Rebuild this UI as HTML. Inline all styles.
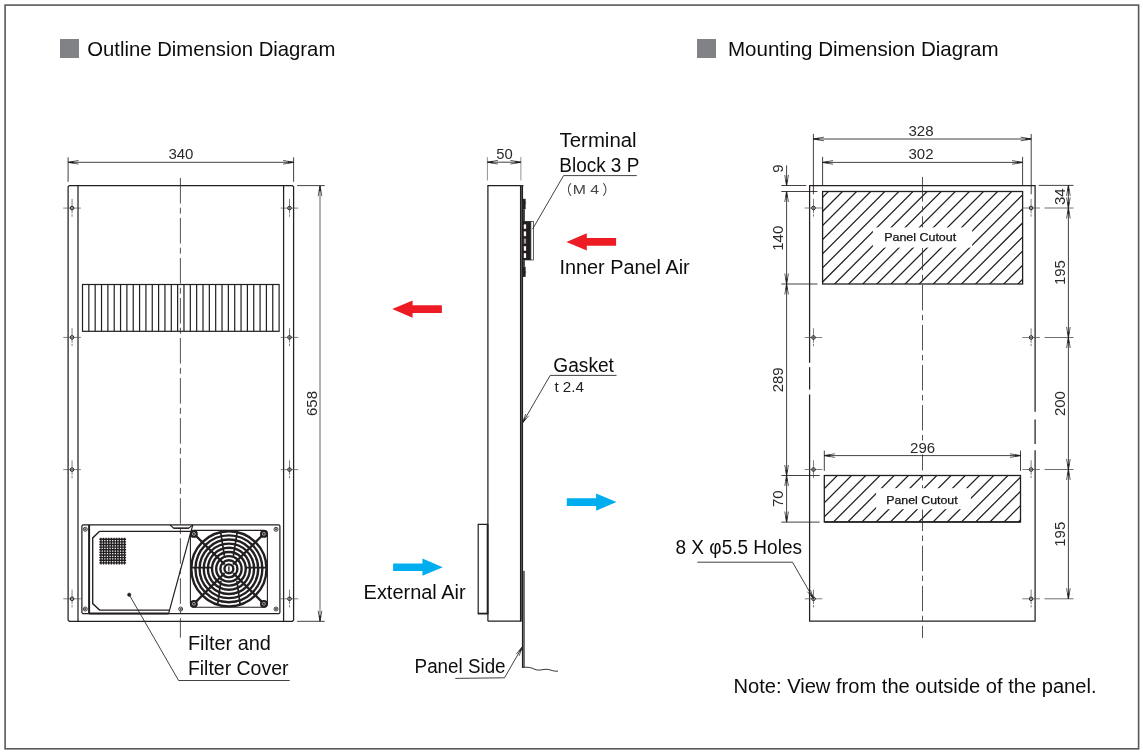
<!DOCTYPE html>
<html lang="en">
<head>
<meta charset="utf-8">
<title>Outline and Mounting Dimension Diagram</title>
<style>
html,body{margin:0;padding:0;background:#fff;}
body{width:1143px;height:755px;overflow:hidden;font-family:"Liberation Sans",sans-serif;}
svg{display:block;will-change:transform;}
svg text{font-family:"Liberation Sans",sans-serif;}
</style>
</head>
<body>
<svg width="1143" height="755" viewBox="0 0 1143 755">
<rect x="0" y="0" width="1143" height="755" fill="#ffffff"/>
<rect x="5.10" y="5.10" width="1133.50" height="743.70" stroke="#58585a" stroke-width="1.6" fill="none" />
<rect x="60" y="39" width="19" height="19" fill="#808285"/>
<rect x="697" y="39" width="19" height="19" fill="#808285"/>
<text x="87.30" y="55.80" font-size="20.2" fill="#0d0d0d" text-anchor="start" textLength="248.0" lengthAdjust="spacingAndGlyphs" >Outline Dimension Diagram</text>
<text x="728.00" y="55.80" font-size="20.2" fill="#0d0d0d" text-anchor="start" textLength="270.5" lengthAdjust="spacingAndGlyphs" >Mounting Dimension Diagram</text>
<path d="M68.1 620.0999999999999L68.1 186.79999999999998L69.3 185.6L292.40000000000003 185.6L293.6 186.79999999999998L293.6 620.0999999999999L292.40000000000003 621.3L69.3 621.3Z" stroke="#231f20" stroke-width="1.25" fill="none" />
<line x1="78.00" y1="185.60" x2="78.00" y2="621.30" stroke="#231f20" stroke-width="1.25" />
<line x1="283.60" y1="185.60" x2="283.60" y2="621.30" stroke="#231f20" stroke-width="1.25" />
<line x1="180.40" y1="177.90" x2="180.40" y2="637.70" stroke="#333" stroke-width="0.85" stroke-dasharray="25.6 4.2 6 4.23"/>
<line x1="68.10" y1="157.30" x2="68.10" y2="181.80" stroke="#231f20" stroke-width="0.85" />
<line x1="293.60" y1="157.30" x2="293.60" y2="181.80" stroke="#231f20" stroke-width="0.85" />
<line x1="68.10" y1="162.30" x2="293.60" y2="162.30" stroke="#231f20" stroke-width="0.85" />
<path d="M78.60 160.50L68.10 162.30L78.60 164.10" stroke="#231f20" stroke-width="0.75" fill="none" stroke-linejoin="miter"/>
<path d="M68.10 162.30L73.56 161.36L73.56 163.24Z" stroke="#231f20" stroke-width="0.3" fill="#231f20" />
<path d="M283.10 164.10L293.60 162.30L283.10 160.50" stroke="#231f20" stroke-width="0.75" fill="none" stroke-linejoin="miter"/>
<path d="M293.60 162.30L288.14 163.24L288.14 161.36Z" stroke="#231f20" stroke-width="0.3" fill="#231f20" />
<text x="180.90" y="159.10" font-size="15" fill="#2a2a2a" text-anchor="middle" >340</text>
<line x1="297.10" y1="185.60" x2="324.70" y2="185.60" stroke="#231f20" stroke-width="0.85" />
<line x1="297.10" y1="621.30" x2="324.70" y2="621.30" stroke="#231f20" stroke-width="0.85" />
<line x1="320.00" y1="185.60" x2="320.00" y2="621.30" stroke="#9a9a9a" stroke-width="1.5" />
<path d="M321.80 196.10L320.00 185.60L318.20 196.10" stroke="#231f20" stroke-width="0.75" fill="none" stroke-linejoin="miter"/>
<path d="M320.00 185.60L320.94 191.06L319.06 191.06Z" stroke="#231f20" stroke-width="0.3" fill="#231f20" />
<path d="M318.20 610.80L320.00 621.30L321.80 610.80" stroke="#231f20" stroke-width="0.75" fill="none" stroke-linejoin="miter"/>
<path d="M320.00 621.30L319.06 615.84L320.94 615.84Z" stroke="#231f20" stroke-width="0.3" fill="#231f20" />
<text x="317.00" y="403.50" font-size="15" fill="#2a2a2a" text-anchor="middle" transform="rotate(-90 317.00 403.50)" >658</text>
<line x1="63.25" y1="208.10" x2="80.85" y2="208.10" stroke="#4a4a4a" stroke-width="0.7" />
<line x1="72.05" y1="198.90" x2="72.05" y2="216.70" stroke="#4a4a4a" stroke-width="0.7" stroke-dasharray="14.5 1 4"/>
<circle cx="72.05" cy="208.10" r="1.80" stroke="#231f20" stroke-width="1.0" fill="none"/>
<line x1="280.70" y1="208.10" x2="298.30" y2="208.10" stroke="#4a4a4a" stroke-width="0.7" />
<line x1="289.50" y1="198.90" x2="289.50" y2="216.70" stroke="#4a4a4a" stroke-width="0.7" stroke-dasharray="14.5 1 4"/>
<circle cx="289.50" cy="208.10" r="1.80" stroke="#231f20" stroke-width="1.0" fill="none"/>
<line x1="63.25" y1="337.40" x2="80.85" y2="337.40" stroke="#4a4a4a" stroke-width="0.7" />
<line x1="72.05" y1="328.20" x2="72.05" y2="346.00" stroke="#4a4a4a" stroke-width="0.7" stroke-dasharray="14.5 1 4"/>
<circle cx="72.05" cy="337.40" r="1.80" stroke="#231f20" stroke-width="1.0" fill="none"/>
<line x1="280.70" y1="337.40" x2="298.30" y2="337.40" stroke="#4a4a4a" stroke-width="0.7" />
<line x1="289.50" y1="328.20" x2="289.50" y2="346.00" stroke="#4a4a4a" stroke-width="0.7" stroke-dasharray="14.5 1 4"/>
<circle cx="289.50" cy="337.40" r="1.80" stroke="#231f20" stroke-width="1.0" fill="none"/>
<line x1="63.25" y1="469.60" x2="80.85" y2="469.60" stroke="#4a4a4a" stroke-width="0.7" />
<line x1="72.05" y1="460.40" x2="72.05" y2="478.20" stroke="#4a4a4a" stroke-width="0.7" stroke-dasharray="14.5 1 4"/>
<circle cx="72.05" cy="469.60" r="1.80" stroke="#231f20" stroke-width="1.0" fill="none"/>
<line x1="280.70" y1="469.60" x2="298.30" y2="469.60" stroke="#4a4a4a" stroke-width="0.7" />
<line x1="289.50" y1="460.40" x2="289.50" y2="478.20" stroke="#4a4a4a" stroke-width="0.7" stroke-dasharray="14.5 1 4"/>
<circle cx="289.50" cy="469.60" r="1.80" stroke="#231f20" stroke-width="1.0" fill="none"/>
<line x1="63.25" y1="598.80" x2="80.85" y2="598.80" stroke="#4a4a4a" stroke-width="0.7" />
<line x1="72.05" y1="589.60" x2="72.05" y2="607.40" stroke="#4a4a4a" stroke-width="0.7" stroke-dasharray="14.5 1 4"/>
<circle cx="72.05" cy="598.80" r="1.80" stroke="#231f20" stroke-width="1.0" fill="none"/>
<line x1="280.70" y1="598.80" x2="298.30" y2="598.80" stroke="#4a4a4a" stroke-width="0.7" />
<line x1="289.50" y1="589.60" x2="289.50" y2="607.40" stroke="#4a4a4a" stroke-width="0.7" stroke-dasharray="14.5 1 4"/>
<circle cx="289.50" cy="598.80" r="1.80" stroke="#231f20" stroke-width="1.0" fill="none"/>
<rect x="82.50" y="284.50" width="196.60" height="46.80" stroke="#231f20" stroke-width="1.2" fill="none" />
<path d="M88.84 284.5V331.3M95.18 284.5V331.3M101.53 284.5V331.3M107.87 284.5V331.3M114.21 284.5V331.3M120.55 284.5V331.3M126.89 284.5V331.3M133.24 284.5V331.3M139.58 284.5V331.3M145.92 284.5V331.3M152.26 284.5V331.3M158.60 284.5V331.3M164.95 284.5V331.3M171.29 284.5V331.3M177.63 284.5V331.3M183.97 284.5V331.3M190.31 284.5V331.3M196.65 284.5V331.3M203.00 284.5V331.3M209.34 284.5V331.3M215.68 284.5V331.3M222.02 284.5V331.3M228.36 284.5V331.3M234.71 284.5V331.3M241.05 284.5V331.3M247.39 284.5V331.3M253.73 284.5V331.3M260.07 284.5V331.3M266.42 284.5V331.3M272.76 284.5V331.3" stroke="#231f20" stroke-width="1.2" fill="none" />
<path d="M81.9 612.6L81.9 525.9L82.9 524.9L278.9 524.9L279.9 525.9L279.9 612.6L278.9 613.6L82.9 613.6Z" stroke="#231f20" stroke-width="1.25" fill="none" />
<line x1="89.10" y1="524.90" x2="89.10" y2="613.60" stroke="#231f20" stroke-width="2.0" />
<line x1="89.10" y1="613.50" x2="168.60" y2="613.50" stroke="#231f20" stroke-width="1.9" />
<path d="M99.4 531.4L190.6 531.4 M99.4 531.4L92.7 537.9L92.7 603.6L99.6 610.1L169.4 610.1" stroke="#231f20" stroke-width="1.35" fill="none" />
<path d="M192.8 524.9L168.6 613.6" stroke="#231f20" stroke-width="1.2" fill="none" />
<path d="M170 524.9L173.9 528.5L188.3 528.5L192.8 524.9" stroke="#231f20" stroke-width="1.2" fill="none" />
<line x1="173.50" y1="527.70" x2="188.80" y2="527.70" stroke="#555" stroke-width="1.0" />
<circle cx="85.30" cy="529.30" r="2.00" stroke="#231f20" stroke-width="0.85" fill="#fff"/>
<circle cx="85.30" cy="529.30" r="0.80" stroke="#231f20" stroke-width="0.6" fill="#666"/>
<circle cx="85.30" cy="609.00" r="2.00" stroke="#231f20" stroke-width="0.85" fill="#fff"/>
<circle cx="85.30" cy="609.00" r="0.80" stroke="#231f20" stroke-width="0.6" fill="#666"/>
<circle cx="276.00" cy="529.30" r="2.00" stroke="#231f20" stroke-width="0.85" fill="#fff"/>
<circle cx="276.00" cy="529.30" r="0.80" stroke="#231f20" stroke-width="0.6" fill="#666"/>
<circle cx="276.00" cy="609.00" r="2.00" stroke="#231f20" stroke-width="0.85" fill="#fff"/>
<circle cx="276.00" cy="609.00" r="0.80" stroke="#231f20" stroke-width="0.6" fill="#666"/>
<circle cx="180.70" cy="609.00" r="2.00" stroke="#231f20" stroke-width="0.85" fill="#fff"/>
<circle cx="180.70" cy="609.00" r="0.80" stroke="#231f20" stroke-width="0.6" fill="#666"/>
<path d="M100.90 537.7V564.5M99.3 539.30H126.1M103.52 537.7V564.5M99.3 541.92H126.1M106.14 537.7V564.5M99.3 544.54H126.1M108.77 537.7V564.5M99.3 547.17H126.1M111.39 537.7V564.5M99.3 549.79H126.1M114.01 537.7V564.5M99.3 552.41H126.1M116.63 537.7V564.5M99.3 555.03H126.1M119.26 537.7V564.5M99.3 557.66H126.1M121.88 537.7V564.5M99.3 560.28H126.1M124.50 537.7V564.5M99.3 562.90H126.1" stroke="#231f20" stroke-width="1.4" fill="none" />
<rect x="190.4" y="530.4" width="76.99999999999997" height="76.80000000000007" rx="3.5" ry="3.5" stroke="#231f20" stroke-width="1.1" fill="#fff"/>
<circle cx="228.90" cy="568.80" r="37.60" stroke="#231f20" stroke-width="2.4" fill="none"/>
<circle cx="228.90" cy="568.80" r="33.45" stroke="#231f20" stroke-width="2.4" fill="none"/>
<circle cx="228.90" cy="568.80" r="29.30" stroke="#231f20" stroke-width="2.4" fill="none"/>
<circle cx="228.90" cy="568.80" r="25.15" stroke="#231f20" stroke-width="2.4" fill="none"/>
<circle cx="228.90" cy="568.80" r="21.00" stroke="#231f20" stroke-width="2.4" fill="none"/>
<circle cx="228.90" cy="568.80" r="16.85" stroke="#231f20" stroke-width="2.4" fill="none"/>
<circle cx="228.90" cy="568.80" r="12.70" stroke="#231f20" stroke-width="2.4" fill="none"/>
<circle cx="228.90" cy="568.80" r="8.55" stroke="#231f20" stroke-width="2.4" fill="none"/>
<circle cx="228.90" cy="568.80" r="4.40" stroke="#231f20" stroke-width="2.4" fill="none"/>
<line x1="228.90" y1="566.20" x2="228.90" y2="571.40" stroke="#231f20" stroke-width="1.3" />
<path d="M233.14 573.04L263.19 603.09M224.66 573.04L194.61 603.09M224.66 564.56L194.61 534.51M233.14 564.56L263.19 534.51" stroke="#231f20" stroke-width="2.3" fill="none" />
<path d="M245.90 567.60L265.90 567.60M211.90 567.60L191.90 567.60M224.40 555.80L220.60 532.00M220.90 580.80L217.60 604.80M233.40 555.80L237.20 532.00M236.90 580.80L240.20 604.80" stroke="#231f20" stroke-width="1.7" fill="none" />
<circle cx="193.90" cy="533.90" r="3.10" stroke="#231f20" stroke-width="1.6" fill="#231f20"/>
<circle cx="193.90" cy="533.90" r="1.45" stroke="#d8d8d8" stroke-width="0.7" fill="#231f20"/>
<circle cx="263.90" cy="533.90" r="3.10" stroke="#231f20" stroke-width="1.6" fill="#231f20"/>
<circle cx="263.90" cy="533.90" r="1.45" stroke="#d8d8d8" stroke-width="0.7" fill="#231f20"/>
<circle cx="193.90" cy="603.80" r="3.10" stroke="#231f20" stroke-width="1.6" fill="#231f20"/>
<circle cx="193.90" cy="603.80" r="1.45" stroke="#d8d8d8" stroke-width="0.7" fill="#231f20"/>
<circle cx="263.90" cy="603.80" r="3.10" stroke="#231f20" stroke-width="1.6" fill="#231f20"/>
<circle cx="263.90" cy="603.80" r="1.45" stroke="#d8d8d8" stroke-width="0.7" fill="#231f20"/>
<circle cx="129.20" cy="594.70" r="1.70" stroke="#231f20" stroke-width="0.5" fill="#231f20"/>
<path d="M129.2 594.7L178.6 680.5L289.7 680.5" stroke="#231f20" stroke-width="0.85" fill="none" />
<text x="187.90" y="649.70" font-size="19.8" fill="#0d0d0d" text-anchor="start" textLength="83.0" lengthAdjust="spacingAndGlyphs" >Filter and</text>
<text x="187.90" y="674.70" font-size="19.8" fill="#0d0d0d" text-anchor="start" textLength="100.6" lengthAdjust="spacingAndGlyphs" >Filter Cover</text>
<path d="M487.9 621.2L487.9 185.7L523.4 185.7" stroke="#231f20" stroke-width="1.25" fill="none" />
<line x1="487.90" y1="621.20" x2="521.50" y2="621.20" stroke="#231f20" stroke-width="1.25" />
<rect x="520.0" y="185.7" width="3.0" height="435.50000000000006" fill="#5a5a5a"/>
<line x1="520.50" y1="185.70" x2="520.50" y2="621.20" stroke="#231f20" stroke-width="1.1" />
<line x1="522.50" y1="185.70" x2="522.50" y2="667.60" stroke="#231f20" stroke-width="1.15" />
<rect x="523.0" y="570.9" width="1.9" height="96.6" fill="#666"/>
<path d="M522.0 667.4C528 667.0 531 667.3 535 669.4C539 671.3 543 669.0 547 669.3C551 669.6 553 671.6 558 671.2" stroke="#231f20" stroke-width="0.9" fill="none" />
<path d="M487.9 524.3L478.2 524.3L478.2 613.6" stroke="#231f20" stroke-width="1.2" fill="none" />
<line x1="477.70" y1="613.60" x2="488.30" y2="613.60" stroke="#231f20" stroke-width="1.8" />
<line x1="487.60" y1="524.30" x2="487.60" y2="613.60" stroke="#231f20" stroke-width="1.8" />
<line x1="487.40" y1="157.10" x2="487.40" y2="180.40" stroke="#777" stroke-width="0.8" />
<line x1="520.90" y1="157.10" x2="520.90" y2="180.40" stroke="#777" stroke-width="0.8" />
<line x1="487.40" y1="162.20" x2="520.90" y2="162.20" stroke="#231f20" stroke-width="0.85" />
<path d="M497.90 160.40L487.40 162.20L497.90 164.00" stroke="#231f20" stroke-width="0.75" fill="none" stroke-linejoin="miter"/>
<path d="M487.40 162.20L492.86 161.26L492.86 163.14Z" stroke="#231f20" stroke-width="0.3" fill="#231f20" />
<path d="M510.40 164.00L520.90 162.20L510.40 160.40" stroke="#231f20" stroke-width="0.75" fill="none" stroke-linejoin="miter"/>
<path d="M520.90 162.20L515.44 163.14L515.44 161.26Z" stroke="#231f20" stroke-width="0.3" fill="#231f20" />
<text x="504.40" y="158.90" font-size="14.8" fill="#2a2a2a" text-anchor="middle" >50</text>
<rect x="522.9" y="198.8" width="2.7" height="10.5" fill="#231f20"/>
<rect x="525.2" y="201.5" width="0.9" height="2.6" fill="#555"/>
<rect x="522.9" y="209.3" width="2.0" height="12" fill="#3a3a3a"/>
<rect x="522.9" y="260.2" width="2.0" height="6.5" fill="#3a3a3a"/>
<rect x="522.9" y="266.7" width="2.7" height="10.2" fill="#231f20"/>
<rect x="525.2" y="271.0" width="0.9" height="2.6" fill="#555"/>
<rect x="522.9" y="221.1" width="8.0" height="39.2" fill="#231f20"/>
<rect x="530.90" y="221.40" width="2.50" height="38.60" stroke="#231f20" stroke-width="0.7" fill="#fff" />
<rect x="523.8" y="224.4" width="2.3" height="4.4" fill="#fff"/>
<rect x="523.8" y="231.4" width="2.3" height="4.8" fill="#fff"/>
<rect x="523.8" y="238.6" width="2.3" height="5.0" fill="#999"/>
<rect x="523.8" y="246.2" width="2.3" height="4.5" fill="#fff"/>
<rect x="523.8" y="253.2" width="2.3" height="4.8" fill="#fff"/>
<path d="M532.6 229.0L563.6 175.6L636.8 175.6" stroke="#231f20" stroke-width="0.85" fill="none" />
<text x="559.60" y="146.70" font-size="20" fill="#0d0d0d" text-anchor="start" textLength="77.0" lengthAdjust="spacingAndGlyphs" >Terminal</text>
<text x="559.30" y="171.60" font-size="20" fill="#0d0d0d" text-anchor="start" textLength="80.0" lengthAdjust="spacingAndGlyphs" >Block 3 P</text>
<text y="194.4" font-size="13.6" fill="#444" style="font-family:'Liberation Sans','Noto Sans CJK JP',sans-serif"><tspan x="558.6">（</tspan><tspan x="572.7" textLength="26.4" lengthAdjust="spacingAndGlyphs">M 4</tspan><tspan x="602.2">）</tspan></text>
<path d="M522.7 422.7L550.2 375.4L616.5 375.4" stroke="#231f20" stroke-width="0.85" fill="none" />
<path d="M525.75 414.06L522.70 422.70L528.69 415.77" stroke="#231f20" stroke-width="0.75" fill="none" stroke-linejoin="miter"/>
<path d="M522.70 422.70L524.29 418.21L525.82 419.10Z" stroke="#231f20" stroke-width="0.3" fill="#231f20" />
<text x="553.30" y="371.60" font-size="20" fill="#0d0d0d" text-anchor="start" textLength="60.6" lengthAdjust="spacingAndGlyphs" >Gasket</text>
<text x="554.40" y="391.60" font-size="14.2" fill="#222" text-anchor="start" textLength="29.6" lengthAdjust="spacingAndGlyphs" >t 2.4</text>
<path d="M455.3 678.4L504.5 677.8L522.2 647.1" stroke="#231f20" stroke-width="0.85" fill="none" />
<path d="M519.18 655.75L522.20 647.10L516.23 654.05" stroke="#231f20" stroke-width="0.75" fill="none" stroke-linejoin="miter"/>
<path d="M522.20 647.10L520.63 651.60L519.10 650.71Z" stroke="#231f20" stroke-width="0.3" fill="#231f20" />
<text x="414.60" y="673.00" font-size="20" fill="#0d0d0d" text-anchor="start" textLength="91.0" lengthAdjust="spacingAndGlyphs" >Panel Side</text>
<path d="M566.40 241.90L586.80 233.30L586.80 238.10L616.10 238.10L616.10 245.70L586.80 245.70L586.80 250.50Z" fill="#ed1c24"/>
<path d="M392.20 309.10L412.60 300.50L412.60 305.30L441.90 305.30L441.90 312.90L412.60 312.90L412.60 317.70Z" fill="#ed1c24"/>
<path d="M442.80 567.20L422.40 558.60L422.40 563.40L393.10 563.40L393.10 571.00L422.40 571.00L422.40 575.80Z" fill="#00aeef"/>
<path d="M616.50 502.10L596.10 493.50L596.10 498.30L566.80 498.30L566.80 505.90L596.10 505.90L596.10 510.70Z" fill="#00aeef"/>
<text x="559.40" y="273.80" font-size="20" fill="#0d0d0d" text-anchor="start" textLength="130.3" lengthAdjust="spacingAndGlyphs" >Inner Panel Air</text>
<text x="363.60" y="598.50" font-size="20" fill="#0d0d0d" text-anchor="start" textLength="102.0" lengthAdjust="spacingAndGlyphs" >External Air</text>
<path d="M809.6 362.8L809.6 185.5L1035.1 185.5L1035.1 411.8" stroke="#231f20" stroke-width="1.25" fill="none" />
<path d="M1035.1 450.2L1035.1 621.2L809.6 621.2L809.6 394.6" stroke="#231f20" stroke-width="1.25" fill="none" />
<line x1="809.60" y1="367.20" x2="809.60" y2="389.60" stroke="#231f20" stroke-width="1.25" />
<line x1="1035.10" y1="419.60" x2="1035.10" y2="444.00" stroke="#231f20" stroke-width="1.25" />
<defs><clipPath id="c1"><rect x="822.6" y="191.5" width="200" height="92.5"/></clipPath><clipPath id="c2"><rect x="824.3" y="475.5" width="196.2" height="46.6"/></clipPath></defs>
<path d="M839.90 180L729.90 290M854.00 180L744.00 290M868.10 180L758.10 290M882.20 180L772.20 290M896.30 180L786.30 290M910.40 180L800.40 290M924.50 180L814.50 290M938.60 180L828.60 290M952.70 180L842.70 290M966.80 180L856.80 290M980.90 180L870.90 290M995.00 180L885.00 290M1009.10 180L899.10 290M1023.20 180L913.20 290M1037.30 180L927.30 290M1051.40 180L941.40 290M1065.50 180L955.50 290M1079.60 180L969.60 290M1093.70 180L983.70 290M1107.80 180L997.80 290M1121.90 180L1011.90 290M1136.00 180L1026.00 290M1150.10 180L1040.10 290M1164.20 180L1054.20 290M1178.30 180L1068.30 290" stroke="#231f20" stroke-width="1.25" fill="none" clip-path="url(#c1)"/>
<path d="M828.58 470L768.58 530M842.80 470L782.80 530M857.02 470L797.02 530M871.24 470L811.24 530M885.46 470L825.46 530M899.68 470L839.68 530M913.90 470L853.90 530M928.12 470L868.12 530M942.34 470L882.34 530M956.56 470L896.56 530M970.78 470L910.78 530M985.00 470L925.00 530M999.22 470L939.22 530M1013.44 470L953.44 530M1027.66 470L967.66 530M1041.88 470L981.88 530M1056.10 470L996.10 530M1070.32 470L1010.32 530M1084.54 470L1024.54 530M1098.76 470L1038.76 530M1112.98 470L1052.98 530M1127.20 470L1067.20 530M1141.42 470L1081.42 530M1155.64 470L1095.64 530M1169.86 470L1109.86 530" stroke="#231f20" stroke-width="1.25" fill="none" clip-path="url(#c2)"/>
<rect x="822.60" y="191.50" width="200.00" height="92.50" stroke="#231f20" stroke-width="1.3" fill="none" />
<rect x="824.30" y="475.50" width="196.20" height="46.40" stroke="#231f20" stroke-width="1.3" fill="none" />
<line x1="824.30" y1="522.00" x2="1020.50" y2="522.00" stroke="#231f20" stroke-width="1.7" />
<line x1="922.50" y1="176.90" x2="922.50" y2="228.00" stroke="#333" stroke-width="0.85" stroke-dasharray="25.3 4.6 5.4 4.75" stroke-dashoffset="0.6"/>
<line x1="922.50" y1="248.00" x2="922.50" y2="488.50" stroke="#333" stroke-width="0.85" stroke-dasharray="25.3 4.6 5.4 4.75" stroke-dashoffset="3.1"/>
<line x1="922.50" y1="509.50" x2="922.50" y2="637.90" stroke="#333" stroke-width="0.85" stroke-dasharray="25.3 4.6 5.4 4.75" stroke-dashoffset="3.8"/>
<rect x="872.9" y="227.4" width="99.3" height="20.2" fill="#fff"/>
<rect x="876.1" y="488.2" width="94.8" height="21.0" fill="#fff"/>
<text x="884.20" y="240.80" font-size="11.8" fill="#111" text-anchor="start" textLength="72.0" lengthAdjust="spacingAndGlyphs" stroke="#111" stroke-width="0.25">Panel Cutout</text>
<text x="886.20" y="503.90" font-size="11.8" fill="#111" text-anchor="start" textLength="71.5" lengthAdjust="spacingAndGlyphs" stroke="#111" stroke-width="0.25">Panel Cutout</text>
<line x1="804.70" y1="208.00" x2="822.30" y2="208.00" stroke="#4a4a4a" stroke-width="0.7" />
<line x1="813.50" y1="198.80" x2="813.50" y2="216.60" stroke="#4a4a4a" stroke-width="0.7" stroke-dasharray="14.5 1 4"/>
<circle cx="813.50" cy="208.00" r="1.80" stroke="#231f20" stroke-width="1.0" fill="none"/>
<line x1="1022.30" y1="208.00" x2="1039.90" y2="208.00" stroke="#4a4a4a" stroke-width="0.7" />
<line x1="1031.10" y1="198.80" x2="1031.10" y2="216.60" stroke="#4a4a4a" stroke-width="0.7" stroke-dasharray="14.5 1 4"/>
<circle cx="1031.10" cy="208.00" r="1.80" stroke="#231f20" stroke-width="1.0" fill="none"/>
<line x1="804.70" y1="337.50" x2="822.30" y2="337.50" stroke="#4a4a4a" stroke-width="0.7" />
<line x1="813.50" y1="328.30" x2="813.50" y2="346.10" stroke="#4a4a4a" stroke-width="0.7" stroke-dasharray="14.5 1 4"/>
<circle cx="813.50" cy="337.50" r="1.80" stroke="#231f20" stroke-width="1.0" fill="none"/>
<line x1="1022.30" y1="337.50" x2="1039.90" y2="337.50" stroke="#4a4a4a" stroke-width="0.7" />
<line x1="1031.10" y1="328.30" x2="1031.10" y2="346.10" stroke="#4a4a4a" stroke-width="0.7" stroke-dasharray="14.5 1 4"/>
<circle cx="1031.10" cy="337.50" r="1.80" stroke="#231f20" stroke-width="1.0" fill="none"/>
<line x1="804.70" y1="469.50" x2="822.30" y2="469.50" stroke="#4a4a4a" stroke-width="0.7" />
<line x1="813.50" y1="460.30" x2="813.50" y2="478.10" stroke="#4a4a4a" stroke-width="0.7" stroke-dasharray="14.5 1 4"/>
<circle cx="813.50" cy="469.50" r="1.80" stroke="#231f20" stroke-width="1.0" fill="none"/>
<line x1="1022.30" y1="469.50" x2="1039.90" y2="469.50" stroke="#4a4a4a" stroke-width="0.7" />
<line x1="1031.10" y1="460.30" x2="1031.10" y2="478.10" stroke="#4a4a4a" stroke-width="0.7" stroke-dasharray="14.5 1 4"/>
<circle cx="1031.10" cy="469.50" r="1.80" stroke="#231f20" stroke-width="1.0" fill="none"/>
<line x1="804.70" y1="598.80" x2="822.30" y2="598.80" stroke="#4a4a4a" stroke-width="0.7" />
<line x1="813.50" y1="589.60" x2="813.50" y2="607.40" stroke="#4a4a4a" stroke-width="0.7" stroke-dasharray="14.5 1 4"/>
<circle cx="813.50" cy="598.80" r="1.80" stroke="#231f20" stroke-width="1.0" fill="none"/>
<line x1="1022.30" y1="598.80" x2="1039.90" y2="598.80" stroke="#4a4a4a" stroke-width="0.7" />
<line x1="1031.10" y1="589.60" x2="1031.10" y2="607.40" stroke="#4a4a4a" stroke-width="0.7" stroke-dasharray="14.5 1 4"/>
<circle cx="1031.10" cy="598.80" r="1.80" stroke="#231f20" stroke-width="1.0" fill="none"/>
<line x1="813.40" y1="133.90" x2="813.40" y2="194.30" stroke="#231f20" stroke-width="0.85" />
<line x1="1031.20" y1="133.90" x2="1031.20" y2="194.30" stroke="#231f20" stroke-width="0.85" />
<line x1="813.40" y1="139.00" x2="1031.20" y2="139.00" stroke="#231f20" stroke-width="0.85" />
<path d="M823.90 137.20L813.40 139.00L823.90 140.80" stroke="#231f20" stroke-width="0.75" fill="none" stroke-linejoin="miter"/>
<path d="M813.40 139.00L818.86 138.06L818.86 139.94Z" stroke="#231f20" stroke-width="0.3" fill="#231f20" />
<path d="M1020.70 140.80L1031.20 139.00L1020.70 137.20" stroke="#231f20" stroke-width="0.75" fill="none" stroke-linejoin="miter"/>
<path d="M1031.20 139.00L1025.74 139.94L1025.74 138.06Z" stroke="#231f20" stroke-width="0.3" fill="#231f20" />
<text x="921.00" y="136.30" font-size="15" fill="#2a2a2a" text-anchor="middle" >328</text>
<line x1="822.60" y1="156.90" x2="822.60" y2="186.00" stroke="#231f20" stroke-width="0.85" />
<line x1="1022.60" y1="156.90" x2="1022.60" y2="186.00" stroke="#231f20" stroke-width="0.85" />
<line x1="822.60" y1="162.40" x2="1022.60" y2="162.40" stroke="#231f20" stroke-width="0.85" />
<path d="M833.10 160.60L822.60 162.40L833.10 164.20" stroke="#231f20" stroke-width="0.75" fill="none" stroke-linejoin="miter"/>
<path d="M822.60 162.40L828.06 161.46L828.06 163.34Z" stroke="#231f20" stroke-width="0.3" fill="#231f20" />
<path d="M1012.10 164.20L1022.60 162.40L1012.10 160.60" stroke="#231f20" stroke-width="0.75" fill="none" stroke-linejoin="miter"/>
<path d="M1022.60 162.40L1017.14 163.34L1017.14 161.46Z" stroke="#231f20" stroke-width="0.3" fill="#231f20" />
<text x="921.00" y="159.30" font-size="15" fill="#2a2a2a" text-anchor="middle" >302</text>
<line x1="824.30" y1="450.60" x2="824.30" y2="470.90" stroke="#231f20" stroke-width="0.85" />
<line x1="1020.50" y1="450.60" x2="1020.50" y2="470.90" stroke="#231f20" stroke-width="0.85" />
<line x1="824.30" y1="455.60" x2="1020.50" y2="455.60" stroke="#231f20" stroke-width="0.85" />
<path d="M834.80 453.80L824.30 455.60L834.80 457.40" stroke="#231f20" stroke-width="0.75" fill="none" stroke-linejoin="miter"/>
<path d="M824.30 455.60L829.76 454.66L829.76 456.54Z" stroke="#231f20" stroke-width="0.3" fill="#231f20" />
<path d="M1010.00 457.40L1020.50 455.60L1010.00 453.80" stroke="#231f20" stroke-width="0.75" fill="none" stroke-linejoin="miter"/>
<path d="M1020.50 455.60L1015.04 456.54L1015.04 454.66Z" stroke="#231f20" stroke-width="0.3" fill="#231f20" />
<rect x="908" y="441" width="29" height="13.5" fill="#fff"/>
<text x="922.60" y="452.80" font-size="15" fill="#2a2a2a" text-anchor="middle" >296</text>
<line x1="781.30" y1="185.50" x2="806.20" y2="185.50" stroke="#231f20" stroke-width="0.85" />
<line x1="781.30" y1="191.50" x2="817.50" y2="191.50" stroke="#231f20" stroke-width="0.85" />
<line x1="781.30" y1="284.00" x2="817.50" y2="284.00" stroke="#231f20" stroke-width="0.85" />
<line x1="781.30" y1="475.50" x2="819.70" y2="475.50" stroke="#231f20" stroke-width="0.85" />
<line x1="781.30" y1="522.10" x2="819.70" y2="522.10" stroke="#231f20" stroke-width="0.85" />
<line x1="786.60" y1="165.40" x2="786.60" y2="185.50" stroke="#231f20" stroke-width="0.85" />
<line x1="786.60" y1="191.50" x2="786.60" y2="522.10" stroke="#231f20" stroke-width="0.85" />
<path d="M784.80 175.00L786.60 185.50L788.40 175.00" stroke="#231f20" stroke-width="0.75" fill="none" stroke-linejoin="miter"/>
<path d="M786.60 185.50L785.66 180.04L787.54 180.04Z" stroke="#231f20" stroke-width="0.3" fill="#231f20" />
<path d="M788.40 202.00L786.60 191.50L784.80 202.00" stroke="#231f20" stroke-width="0.75" fill="none" stroke-linejoin="miter"/>
<path d="M786.60 191.50L787.54 196.96L785.66 196.96Z" stroke="#231f20" stroke-width="0.3" fill="#231f20" />
<path d="M784.80 273.50L786.60 284.00L788.40 273.50" stroke="#231f20" stroke-width="0.75" fill="none" stroke-linejoin="miter"/>
<path d="M786.60 284.00L785.66 278.54L787.54 278.54Z" stroke="#231f20" stroke-width="0.3" fill="#231f20" />
<path d="M788.40 294.50L786.60 284.00L784.80 294.50" stroke="#231f20" stroke-width="0.75" fill="none" stroke-linejoin="miter"/>
<path d="M786.60 284.00L787.54 289.46L785.66 289.46Z" stroke="#231f20" stroke-width="0.3" fill="#231f20" />
<path d="M784.80 465.00L786.60 475.50L788.40 465.00" stroke="#231f20" stroke-width="0.75" fill="none" stroke-linejoin="miter"/>
<path d="M786.60 475.50L785.66 470.04L787.54 470.04Z" stroke="#231f20" stroke-width="0.3" fill="#231f20" />
<path d="M788.40 486.00L786.60 475.50L784.80 486.00" stroke="#231f20" stroke-width="0.75" fill="none" stroke-linejoin="miter"/>
<path d="M786.60 475.50L787.54 480.96L785.66 480.96Z" stroke="#231f20" stroke-width="0.3" fill="#231f20" />
<path d="M784.80 511.60L786.60 522.10L788.40 511.60" stroke="#231f20" stroke-width="0.75" fill="none" stroke-linejoin="miter"/>
<path d="M786.60 522.10L785.66 516.64L787.54 516.64Z" stroke="#231f20" stroke-width="0.3" fill="#231f20" />
<text x="783.40" y="168.60" font-size="15" fill="#2a2a2a" text-anchor="middle" transform="rotate(-90 783.40 168.60)" >9</text>
<text x="783.40" y="238.20" font-size="15" fill="#2a2a2a" text-anchor="middle" transform="rotate(-90 783.40 238.20)" >140</text>
<text x="783.40" y="379.80" font-size="15" fill="#2a2a2a" text-anchor="middle" transform="rotate(-90 783.40 379.80)" >289</text>
<text x="783.40" y="498.70" font-size="15" fill="#2a2a2a" text-anchor="middle" transform="rotate(-90 783.40 498.70)" >70</text>
<line x1="1038.80" y1="185.40" x2="1073.50" y2="185.40" stroke="#231f20" stroke-width="0.85" />
<line x1="1044.60" y1="208.00" x2="1073.50" y2="208.00" stroke="#6e6e6e" stroke-width="1.0" />
<line x1="1044.60" y1="337.50" x2="1073.50" y2="337.50" stroke="#6e6e6e" stroke-width="1.0" />
<line x1="1044.60" y1="469.50" x2="1073.50" y2="469.50" stroke="#6e6e6e" stroke-width="1.0" />
<line x1="1044.60" y1="598.80" x2="1073.50" y2="598.80" stroke="#6e6e6e" stroke-width="1.0" />
<line x1="1068.40" y1="185.40" x2="1068.40" y2="598.80" stroke="#231f20" stroke-width="0.85" />
<path d="M1070.20 195.90L1068.40 185.40L1066.60 195.90" stroke="#231f20" stroke-width="0.75" fill="none" stroke-linejoin="miter"/>
<path d="M1068.40 185.40L1069.34 190.86L1067.46 190.86Z" stroke="#231f20" stroke-width="0.3" fill="#231f20" />
<path d="M1066.60 197.50L1068.40 208.00L1070.20 197.50" stroke="#231f20" stroke-width="0.75" fill="none" stroke-linejoin="miter"/>
<path d="M1068.40 208.00L1067.46 202.54L1069.34 202.54Z" stroke="#231f20" stroke-width="0.3" fill="#231f20" />
<path d="M1070.20 218.50L1068.40 208.00L1066.60 218.50" stroke="#231f20" stroke-width="0.75" fill="none" stroke-linejoin="miter"/>
<path d="M1068.40 208.00L1069.34 213.46L1067.46 213.46Z" stroke="#231f20" stroke-width="0.3" fill="#231f20" />
<path d="M1066.60 327.00L1068.40 337.50L1070.20 327.00" stroke="#231f20" stroke-width="0.75" fill="none" stroke-linejoin="miter"/>
<path d="M1068.40 337.50L1067.46 332.04L1069.34 332.04Z" stroke="#231f20" stroke-width="0.3" fill="#231f20" />
<path d="M1070.20 348.00L1068.40 337.50L1066.60 348.00" stroke="#231f20" stroke-width="0.75" fill="none" stroke-linejoin="miter"/>
<path d="M1068.40 337.50L1069.34 342.96L1067.46 342.96Z" stroke="#231f20" stroke-width="0.3" fill="#231f20" />
<path d="M1066.60 459.00L1068.40 469.50L1070.20 459.00" stroke="#231f20" stroke-width="0.75" fill="none" stroke-linejoin="miter"/>
<path d="M1068.40 469.50L1067.46 464.04L1069.34 464.04Z" stroke="#231f20" stroke-width="0.3" fill="#231f20" />
<path d="M1070.20 480.00L1068.40 469.50L1066.60 480.00" stroke="#231f20" stroke-width="0.75" fill="none" stroke-linejoin="miter"/>
<path d="M1068.40 469.50L1069.34 474.96L1067.46 474.96Z" stroke="#231f20" stroke-width="0.3" fill="#231f20" />
<path d="M1066.60 588.30L1068.40 598.80L1070.20 588.30" stroke="#231f20" stroke-width="0.75" fill="none" stroke-linejoin="miter"/>
<path d="M1068.40 598.80L1067.46 593.34L1069.34 593.34Z" stroke="#231f20" stroke-width="0.3" fill="#231f20" />
<text x="1064.80" y="196.70" font-size="15" fill="#2a2a2a" text-anchor="middle" transform="rotate(-90 1064.80 196.70)" >34</text>
<text x="1064.80" y="272.60" font-size="15" fill="#2a2a2a" text-anchor="middle" transform="rotate(-90 1064.80 272.60)" >195</text>
<text x="1064.80" y="403.60" font-size="15" fill="#2a2a2a" text-anchor="middle" transform="rotate(-90 1064.80 403.60)" >200</text>
<text x="1064.80" y="534.20" font-size="15" fill="#2a2a2a" text-anchor="middle" transform="rotate(-90 1064.80 534.20)" >195</text>
<path d="M697.3 562.2L792.5 562.2L813.5 598.7" stroke="#231f20" stroke-width="0.85" fill="none" />
<path d="M807.54 591.75L813.50 598.70L810.49 590.05" stroke="#231f20" stroke-width="0.75" fill="none" stroke-linejoin="miter"/>
<path d="M813.50 598.70L810.40 595.08L811.93 594.20Z" stroke="#231f20" stroke-width="0.3" fill="#231f20" />
<text x="675.50" y="553.60" font-size="20" fill="#0d0d0d" text-anchor="start" textLength="126.5" lengthAdjust="spacingAndGlyphs" >8 X φ5.5 Holes</text>
<text x="733.50" y="692.90" font-size="20" fill="#0d0d0d" text-anchor="start" textLength="363.0" lengthAdjust="spacingAndGlyphs" >Note: View from the outside of the panel.</text>
</svg>
</body>
</html>
